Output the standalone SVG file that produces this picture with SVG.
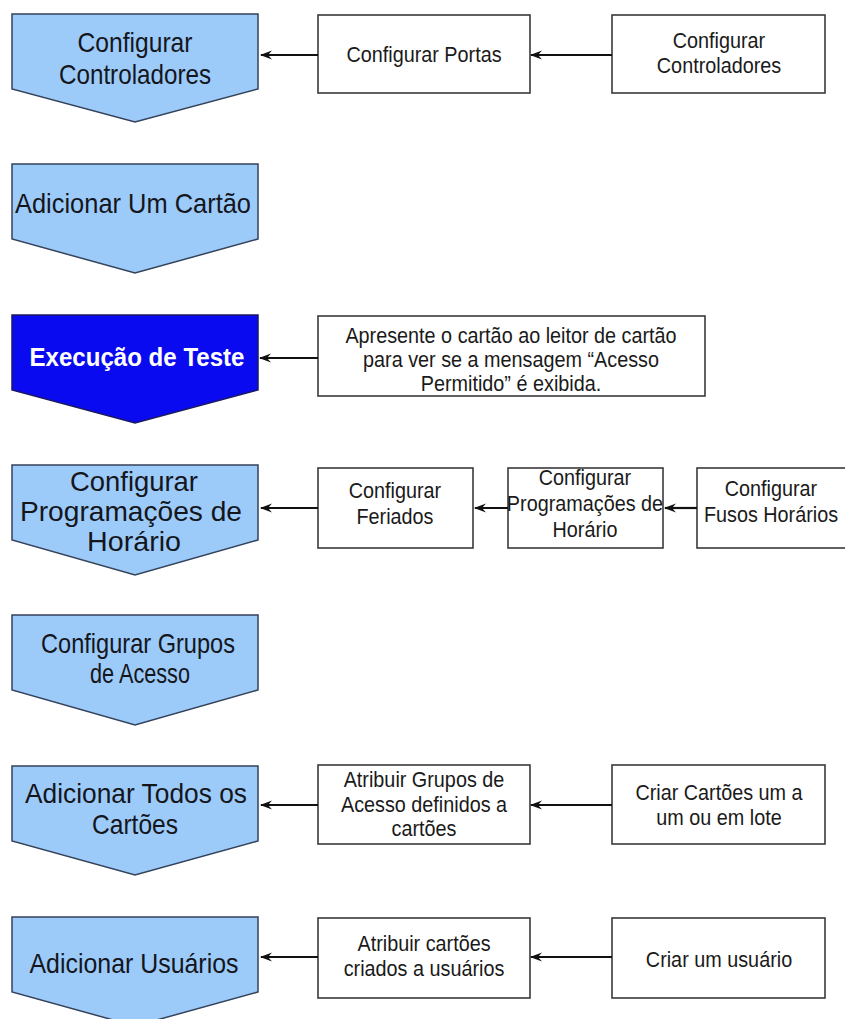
<svg xmlns="http://www.w3.org/2000/svg" width="845" height="1019" viewBox="0 0 845 1019">
<style>
  text { font-family: "Liberation Sans", Arial, sans-serif; text-anchor: middle; }
  .bt { transform-box: fill-box; transform-origin: center; transform: scaleX(0.88); font-size: 22.5px; fill: #1a1a1a; }
  .step { fill: #9CCBFA; stroke: #34425a; stroke-width: 1.5; }
  .stepHi { fill: #0A0AF0; stroke: #1a1a60; stroke-width: 1.5; }
  .st { font-size: 28px; fill: #15161c; }
  .sth { font-size: 26px; fill: #ffffff; font-weight: bold; }
  .box { fill: #ffffff; stroke: #3a3a3a; stroke-width: 1.6; }
  .conn { stroke: #111111; stroke-width: 2.2; fill: none; marker-end: url(#ah); }
</style>
<defs>
  <marker id="ah" viewBox="0 0 12 10" refX="11" refY="5" markerWidth="12" markerHeight="10" orient="auto" markerUnits="userSpaceOnUse">
    <path d="M12,5 L0,0.5 L4,5 L0,9.5 z" fill="#111111"/>
  </marker>
</defs>
<rect x="0" y="0" width="845" height="1019" fill="#ffffff"/>

<g id="step1">
  <polygon class="step" points="12,14 258,14 258,89 135,122 12,89"/>
  <text class="st" x="135" y="52" textLength="115" lengthAdjust="spacingAndGlyphs">Configurar</text>
  <text class="st" x="135" y="84" textLength="152" lengthAdjust="spacingAndGlyphs">Controladores</text>
</g>
<g id="step2">
  <polygon class="step" points="12,164 258,164 258,239 135,273 12,239"/>
  <text class="st" x="133" y="213" textLength="236" lengthAdjust="spacingAndGlyphs">Adicionar Um Cartão</text>
</g>
<g id="step3">
  <polygon class="stepHi" points="12,315 258,315 258,390 135,423 12,390"/>
  <text class="sth" x="137" y="366" textLength="215" lengthAdjust="spacingAndGlyphs">Execução de Teste</text>
</g>
<g id="step4">
  <polygon class="step" points="12,465 258,465 258,540 135,575 12,540"/>
  <text class="st" x="134" y="491" textLength="128" lengthAdjust="spacingAndGlyphs">Configurar</text>
  <text class="st" x="131" y="521" textLength="222" lengthAdjust="spacingAndGlyphs">Programações de</text>
  <text class="st" x="134" y="551" textLength="94" lengthAdjust="spacingAndGlyphs">Horário</text>
</g>
<g id="step5">
  <polygon class="step" points="12,615 258,615 258,690 135,725 12,690"/>
  <text class="st" x="138" y="653" textLength="194" lengthAdjust="spacingAndGlyphs">Configurar Grupos</text>
  <text class="st" x="140" y="683" textLength="100" lengthAdjust="spacingAndGlyphs">de Acesso</text>
</g>
<g id="step6">
  <polygon class="step" points="12,766 258,766 258,841 135,875 12,841"/>
  <text class="st" x="136" y="803" textLength="222" lengthAdjust="spacingAndGlyphs">Adicionar Todos os</text>
  <text class="st" x="135" y="834" textLength="86" lengthAdjust="spacingAndGlyphs">Cartões</text>
</g>
<g id="step7">
  <polygon class="step" points="12,917 258,917 258,992 135,1026 12,992"/>
  <text class="st" x="134" y="973" textLength="209" lengthAdjust="spacingAndGlyphs">Adicionar Usuários</text>
</g>

<g id="box-portas">
  <rect class="box" x="318" y="15" width="212" height="78"/>
  <text class="bt" x="424" y="62">Configurar Portas</text>
</g>
<g id="box-controladores">
  <rect class="box" x="612" y="15" width="213" height="78"/>
  <text class="bt" x="719" y="48">Configurar</text>
  <text class="bt" x="719" y="73">Controladores</text>
</g>
<g id="box-teste">
  <rect class="box" x="318" y="316" width="387" height="80"/>
  <text class="bt" x="511" y="343">Apresente o cartão ao leitor de cartão</text>
  <text class="bt" x="511" y="367">para ver se a mensagem “Acesso</text>
  <text class="bt" x="511" y="391">Permitido” é exibida.</text>
</g>
<g id="box-feriados">
  <rect class="box" x="318" y="468" width="155" height="80"/>
  <text class="bt" x="395" y="498">Configurar</text>
  <text class="bt" x="395" y="524">Feriados</text>
</g>
<g id="box-programacoes">
  <rect class="box" x="508" y="468" width="155" height="80"/>
  <text class="bt" x="585" y="485">Configurar</text>
  <text class="bt" x="585" y="511">Programações de</text>
  <text class="bt" x="585" y="537">Horário</text>
</g>
<g id="box-fusos">
  <rect class="box" x="697" y="468" width="152" height="80"/>
  <text class="bt" x="771" y="496">Configurar</text>
  <text class="bt" x="771" y="522">Fusos Horários</text>
</g>
<g id="box-atribuir-grupos">
  <rect class="box" x="318" y="765" width="212" height="79"/>
  <text class="bt" x="424" y="787">Atribuir Grupos de</text>
  <text class="bt" x="424" y="812">Acesso definidos a</text>
  <text class="bt" x="424" y="836">cartões</text>
</g>
<g id="box-criar-cartoes">
  <rect class="box" x="612" y="765" width="213" height="79"/>
  <text class="bt" x="719" y="800">Criar Cartões um a</text>
  <text class="bt" x="719" y="825">um ou em lote</text>
</g>
<g id="box-atribuir-cartoes">
  <rect class="box" x="318" y="918" width="212" height="80"/>
  <text class="bt" x="424" y="951">Atribuir cartões</text>
  <text class="bt" x="424" y="976">criados a usuários</text>
</g>
<g id="box-criar-usuario">
  <rect class="box" x="612" y="918" width="213" height="80"/>
  <text class="bt" x="719" y="967">Criar um usuário</text>
</g>

<g id="connectors">
  <line class="conn" x1="318" y1="55" x2="261" y2="55"/>
  <line class="conn" x1="612" y1="55" x2="531" y2="55"/>
  <line class="conn" x1="318" y1="358" x2="260" y2="358"/>
  <line class="conn" x1="318" y1="508" x2="261" y2="508"/>
  <line class="conn" x1="508" y1="508" x2="475" y2="508"/>
  <line class="conn" x1="697" y1="508" x2="665" y2="508"/>
  <line class="conn" x1="318" y1="805" x2="261" y2="805"/>
  <line class="conn" x1="612" y1="805" x2="531" y2="805"/>
  <line class="conn" x1="318" y1="957" x2="261" y2="957"/>
  <line class="conn" x1="612" y1="957" x2="531" y2="957"/>
</g>
</svg>
